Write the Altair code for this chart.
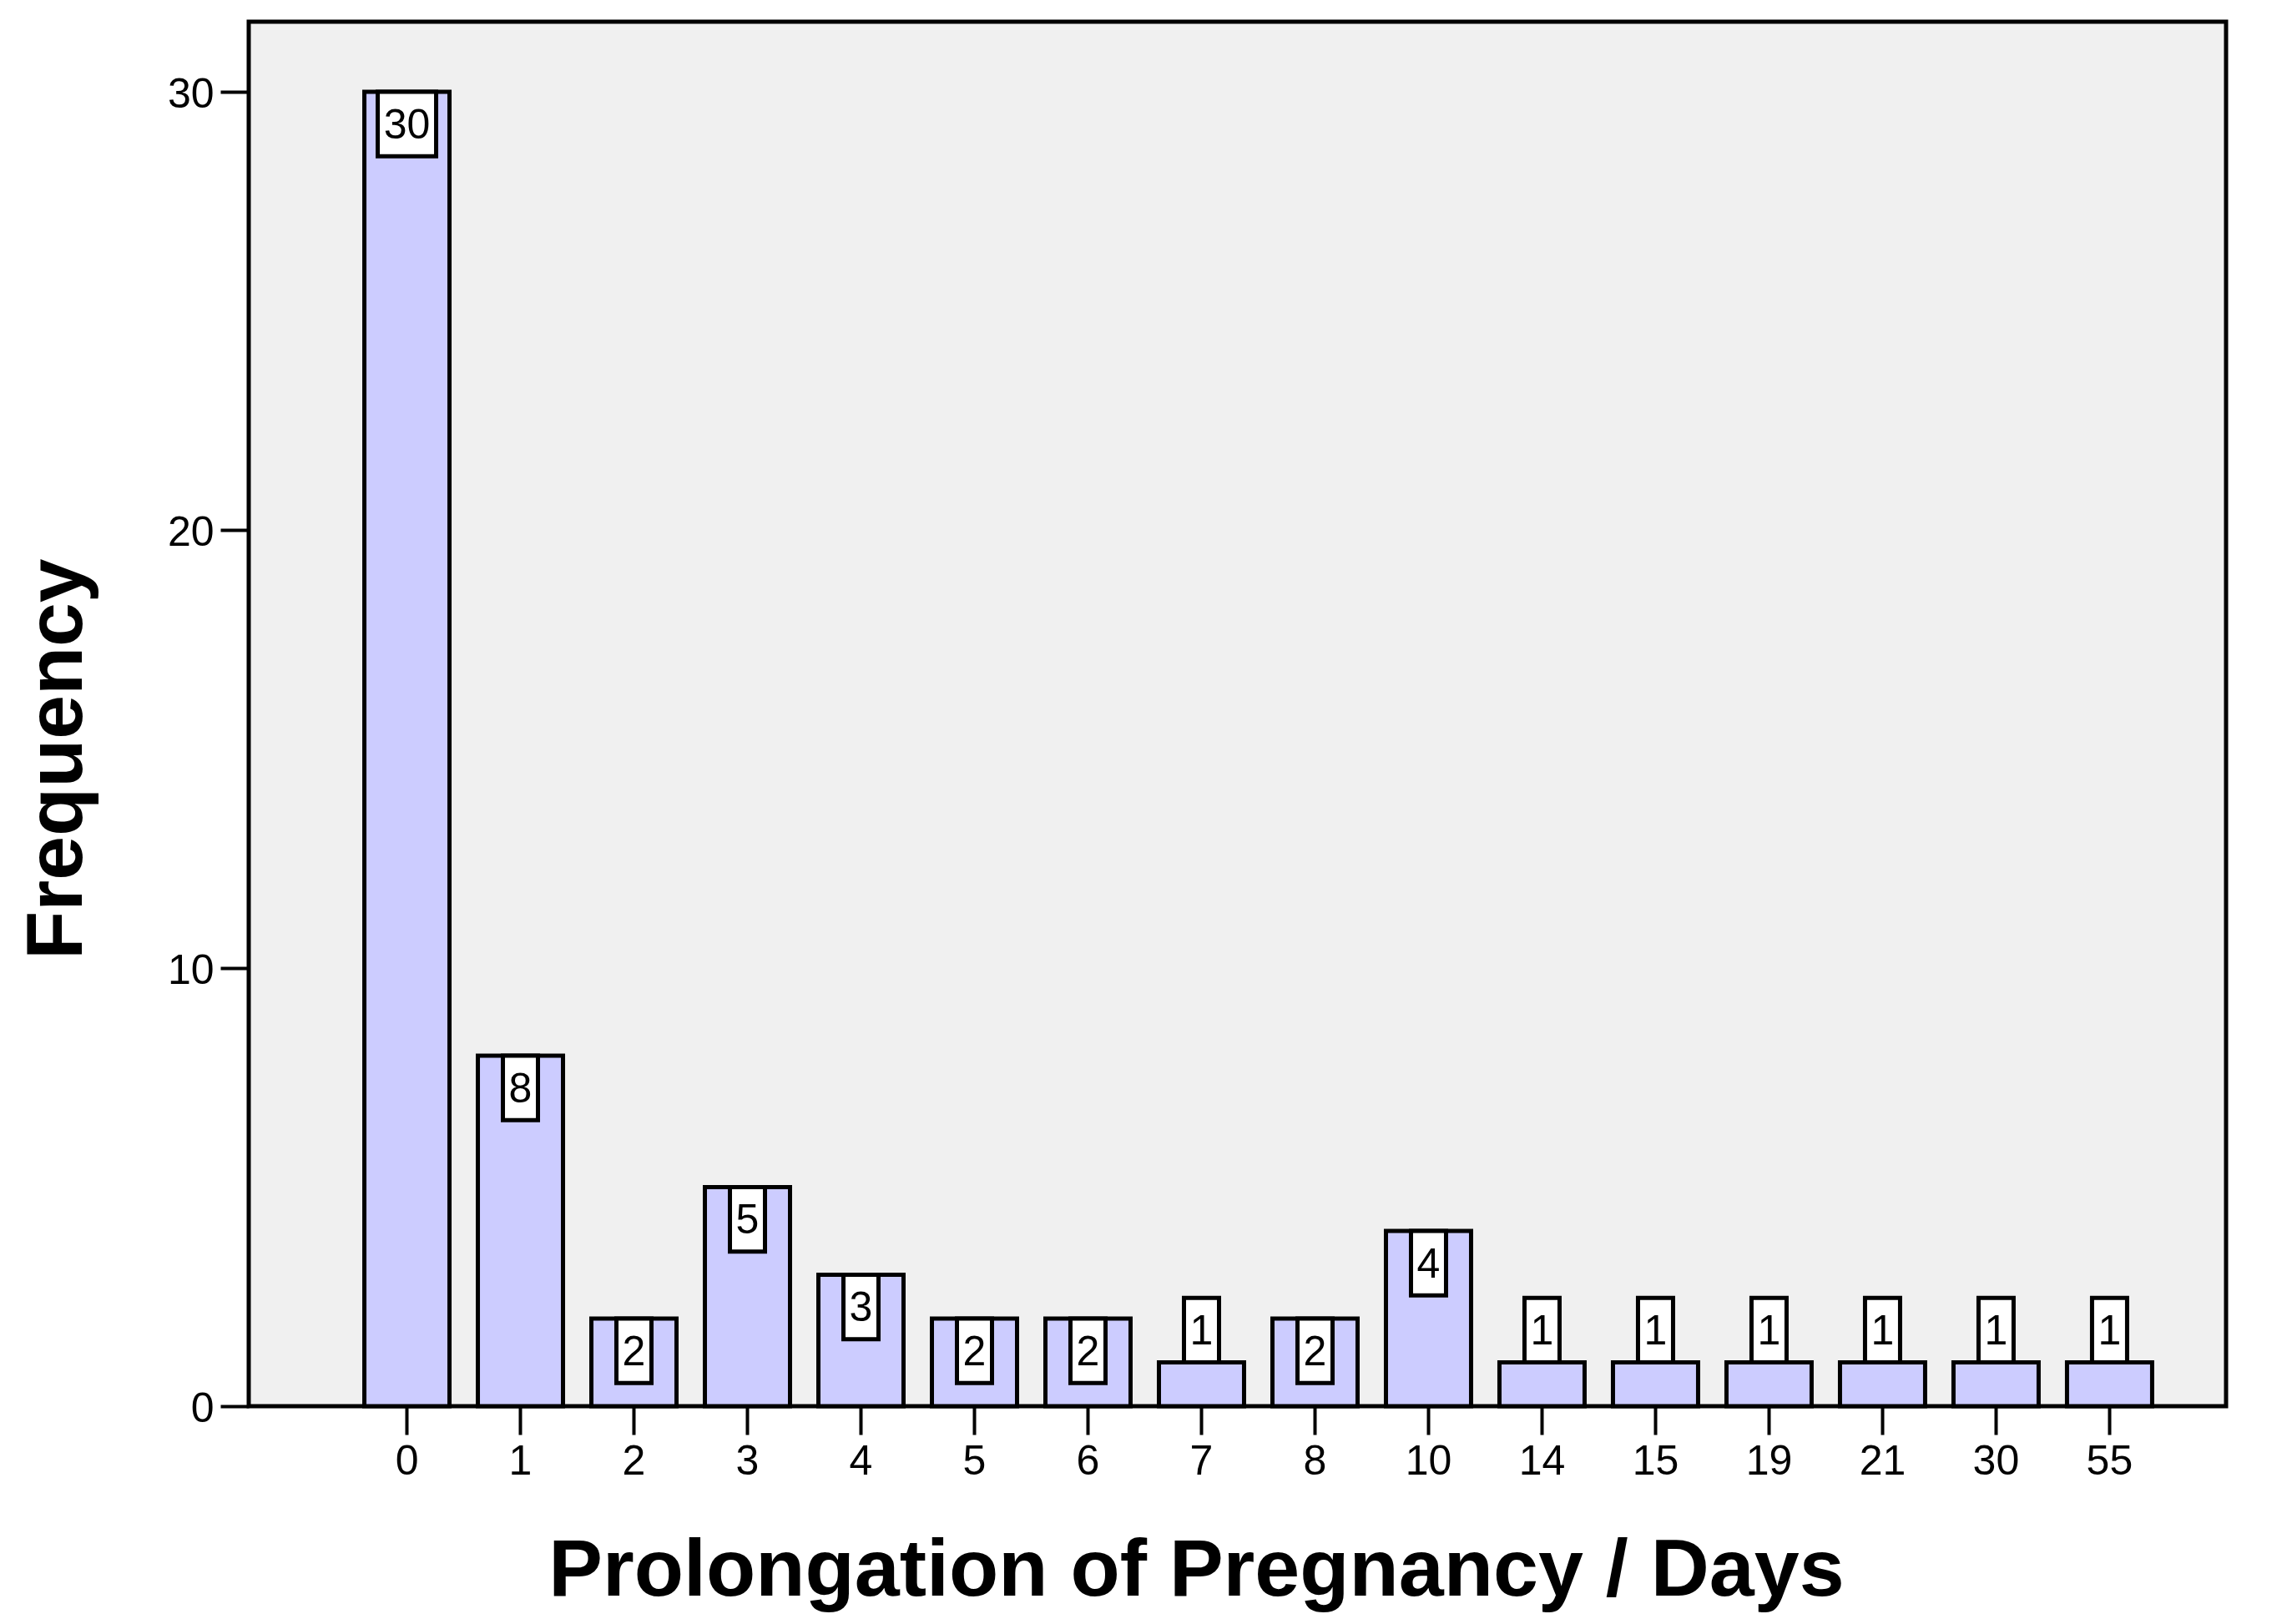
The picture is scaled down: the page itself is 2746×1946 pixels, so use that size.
import altair as alt
import pandas as pd

# ---- data ----
days = ["0", "1", "2", "3", "4", "5", "6", "7", "8", "10", "14", "15", "19", "21", "30", "55"]
freq = [30, 8, 2, 5, 3, 2, 2, 1, 2, 4, 1, 1, 1, 1, 1, 1]
y_ticks = [0, 10, 20, 30]

BOX_H = 1.47  # label-box height in data units (SPSS-style value labels)

df = pd.DataFrame({"days": days, "freq": freq})
df["box_top"] = [f if f >= BOX_H else f + BOX_H for f in freq]
df["box_bot"] = df["box_top"] - BOX_H
df["box_mid"] = (df["box_top"] + df["box_bot"]) / 2
df["label"] = df["freq"].astype(str)
df["wide"] = df["label"].str.len() > 1

W, H = 2369, 1659
LABEL_FONT = "Liberation Sans"
TITLE_FONT = "Liberation Sans"

x_enc = alt.X(
    "days:O",
    sort=days,
    scale=alt.Scale(paddingInner=0.25, paddingOuter=0.835, align=0.61),
    axis=alt.Axis(
        title="Prolongation of Pregnancy / Days",
        labelAngle=0,
        labelPadding=7,
        titleX=1135,
        titleY=226,
        titleFontSize=97,
        titleAlign="center",
        titleBaseline="alphabetic",
    ),
)


def y_enc(field):
    return alt.Y(
        field,
        scale=alt.Scale(domain=[0, 31.6], nice=False, zero=True),
        axis=alt.Axis(
            title="Frequency",
            values=y_ticks,
            labelPadding=8,
            labelOffset=3,
            titleX=-230,
            titleY=883,
            titleFontSize=95,
            titleAlign="center",
            titleBaseline="middle",
        ),
    )


base = alt.Chart(df)

bars = base.mark_bar(color="#ccccff", stroke="black", strokeWidth=5).encode(
    x=x_enc, y=y_enc("freq:Q")
)

box_narrow = base.transform_filter("!datum.wide").mark_bar(
    width=42, fill="white", stroke="black", strokeWidth=5
).encode(x=x_enc, y=y_enc("box_top:Q"), y2="box_bot:Q")

box_wide = base.transform_filter("datum.wide").mark_bar(
    width=70, fill="white", stroke="black", strokeWidth=5
).encode(x=x_enc, y=y_enc("box_top:Q"), y2="box_bot:Q")

texts = base.mark_text(
    font=LABEL_FONT, fontSize=50, baseline="middle", align="center", color="black", dy=2
).encode(x=x_enc, y=y_enc("box_mid:Q"), text="label:N")

chart = (
    alt.layer(bars, box_narrow, box_wide, texts)
    .properties(
        width=W,
        height=H,
        autosize=alt.AutoSizeParams(type="none"),
        padding={"left": 290, "top": 18, "right": 71, "bottom": 253},
        background="white",
    )
    .configure_view(fill="#f0f0f0", stroke="black", strokeWidth=5)
    .configure_axis(
        domain=False,
        grid=False,
        ticks=True,
        tickColor="black",
        tickWidth=4,
        tickSize=34,
        labelFont=LABEL_FONT,
        labelFontSize=50,
        labelColor="black",
        titleFont=TITLE_FONT,
        titleFontWeight="bold",
        titleColor="black",
    )
)

chart.save("out.html", embed_options={"renderer": "svg", "actions": False})
